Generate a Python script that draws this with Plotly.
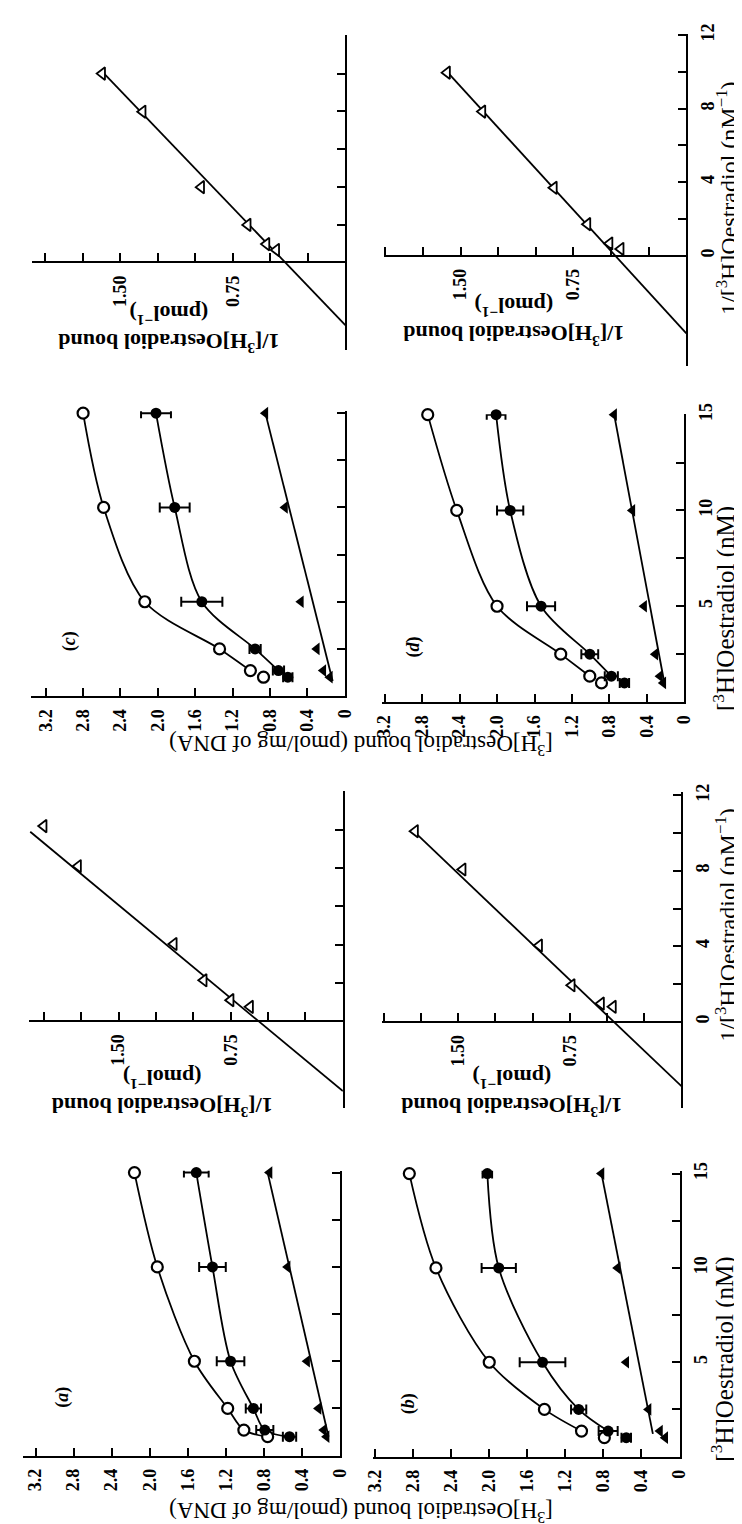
import plotly.graph_objects as go

W, H = 742, 1524

# ---------------- data ----------------
conc_nM = [1.0, 1.35, 2.5, 5, 10, 15]

# panel (a)
a_open = [0.76, 1.01, 1.18, 1.53, 1.92, 2.16]
a_filled = [0.53, 0.79, 0.91, 1.15, 1.34, 1.51]
a_filled_err = [0.07, 0.09, 0.08, 0.145, 0.14, 0.13]
a_tri = [0.14, 0.17, 0.225, 0.345, 0.55, 0.74]
a_tri_fit_conc = [1.0, 15]
a_tri_fit = [0.12, 0.76]

# panel (b)
b_open = [0.79, 1.03, 1.42, 2.00, 2.56, 2.84]
b_filled = [0.56, 0.75, 1.06, 1.44, 1.90, 2.02]
b_filled_err = [0.05, 0.10, 0.08, 0.24, 0.18, 0.05]
b_tri = [0.15, 0.205, 0.325, 0.56, 0.65, 0.82]
b_tri_fit_conc = [1.2, 15]
b_tri_fit = [0.28, 0.82]

# panel (c)
c_open = [0.87, 1.01, 1.34, 2.14, 2.58, 2.80]
c_filled = [0.61, 0.71, 0.96, 1.53, 1.82, 2.02]
c_filled_err = [0.05, 0.06, 0.06, 0.22, 0.16, 0.16]
c_tri = [0.16, 0.23, 0.30, 0.47, 0.64, 0.85]
c_tri_fit_conc = [0.8, 15]
c_tri_fit = [0.13, 0.85]

# panel (d)
d_open = [0.885, 1.01, 1.32, 2.00, 2.43, 2.74]
d_filled = [0.64, 0.78, 1.01, 1.53, 1.86, 2.01]
d_filled_err = [0.05, 0.07, 0.09, 0.15, 0.14, 0.10]
d_tri = [0.225, 0.26, 0.31, 0.43, 0.555, 0.75]
d_tri_fit_conc = [0.9, 15]
d_tri_fit = [0.21, 0.75]

# double-reciprocal panels
lwa_inv_conc = [10.2, 8.1, 4.03, 2.13, 1.09, 0.74]
lwa_inv_bound = [2.00, 1.77, 1.13, 0.93, 0.75, 0.62]
lwa_fit_inv_conc = [9.9, -3.67]
lwa_fit_inv_bound = [2.09, 0.0]

lwb_inv_conc = [10.1, 8.07, 4.04, 1.93, 0.96, 0.79]
lwb_inv_bound = [1.79, 1.47, 0.956, 0.737, 0.54, 0.46]
lwb_fit_inv_conc = [10.1, -3.42]
lwb_fit_inv_bound = [1.80, 0.0]

lwc_inv_conc = [10.0, 7.98, 3.98, 1.98, 0.96, 0.65]
lwc_inv_bound = [1.62, 1.35, 0.96, 0.65, 0.525, 0.46]
lwc_fit_inv_conc = [10.1, -3.33]
lwc_fit_inv_bound = [1.62, 0.0]

lwd_inv_conc = [9.96, 7.84, 3.69, 1.71, 0.66, 0.36]
lwd_inv_bound = [1.59, 1.355, 0.88, 0.657, 0.51, 0.436]
lwd_fit_inv_conc = [10.1, -4.24]
lwd_fit_inv_bound = [1.60, 0.0]

bound_ticks = [0, 0.4, 0.8, 1.2, 1.6, 2.0, 2.4, 2.8, 3.2]
bound_ticktext = ["0", "0.4", "0.8", "1.2", "1.6", "2.0", "2.4", "2.8", "3.2"]
conc_ticks = [0, 2.5, 5, 7.5, 10, 12.5, 15]
conc_ticktext = ["", "", "5", "", "10", "", "15"]
invb_ticks = [0.25, 0.5, 0.75, 1.0, 1.25, 1.5, 1.75, 2.0]
invb_ticktext = ["", "", "0.75", "", "", "1.50", "", ""]
invc_ticks = [0, 2, 4, 6, 8, 10, 12]
invc_ticktext = ["0", "", "4", "", "8", "", "12"]

# ---------------- layout geometry (pixels) ----------------
sat_geom = {
    "a": dict(n=1, x0=332, sx=97.5, xl=7, y0=1447, sy=19.0, yt=1160, labels=False),
    "b": dict(n=2, x0=680, sx=97.5, xl=366, y0=1448, sy=19.0, yt=1160, labels=True),
    "c": dict(n=3, x0=337, sx=95.8, xl=15, y0=682, sy=19.0, yt=395, labels=False),
    "d": dict(n=4, x0=685, sx=96.0, xl=375, y0=688, sy=19.3, yt=398, labels=True),
}
lw_geom = {
    "a": dict(n=5, x0=335, sx=153.3, xl=13, y0=1009.3, sy=19.25, yt=778, yb=1097, labels=False),
    "b": dict(n=6, x0=682, sx=152.5, xl=375, y0=1010, sy=19.0, yt=779, yb=1097, labels=True),
    "c": dict(n=7, x0=337.5, sx=153.8, xl=16.7, y0=245, sy=19.0, yt=16, yb=333, labels=False),
    "d": dict(n=8, x0=687, sx=154.2, xl=377, y0=238.3, sy=18.5, yt=15, yb=350, labels=True),
}

sat_data = {
    "a": (a_open, a_filled, a_filled_err, a_tri, a_tri_fit_conc, a_tri_fit, 0, 0),
    "b": (b_open, b_filled, b_filled_err, b_tri, b_tri_fit_conc, b_tri_fit, 1, 1),
    "c": (c_open, c_filled, c_filled_err, c_tri, c_tri_fit_conc, c_tri_fit, 1, 1),
    "d": (d_open, d_filled, d_filled_err, d_tri, d_tri_fit_conc, d_tri_fit, 1, 1),
}
lw_data = {
    "a": (lwa_inv_bound, lwa_inv_conc, lwa_fit_inv_bound, lwa_fit_inv_conc),
    "b": (lwb_inv_bound, lwb_inv_conc, lwb_fit_inv_bound, lwb_fit_inv_conc),
    "c": (lwc_inv_bound, lwc_inv_conc, lwc_fit_inv_bound, lwc_fit_inv_conc),
    "d": (lwd_inv_bound, lwd_inv_conc, lwd_fit_inv_bound, lwd_fit_inv_conc),
}

SERIF = "Liberation Serif"
tickfont = dict(family=SERIF, size=18, color="black", weight="bold")
LINE_W = 1.8

fig = go.Figure()
layout = dict(
    width=W, height=H, margin=dict(l=0, r=0, t=0, b=0),
    paper_bgcolor="white", plot_bgcolor="white", showlegend=False,
)

axis_common = dict(
    showgrid=False, zeroline=False, showline=True, linecolor="black", linewidth=2,
    ticks="inside", ticklen=8, tickwidth=2, tickcolor="black", tickfont=tickfont,
    tickangle=-90, fixedrange=True,
)

for key, g in sat_geom.items():
    n = g["n"]
    xa, ya = ("x" if n == 1 else f"x{n}"), ("y" if n == 1 else f"y{n}")
    layout[f"xaxis{n}" if n > 1 else "xaxis"] = dict(
        axis_common,
        domain=[g["xl"] / W, g["x0"] / W],
        range=[(g["x0"] - g["xl"]) / g["sx"], 0],
        anchor=ya, side="bottom",
        tickmode="array", tickvals=bound_ticks, ticktext=bound_ticktext,
        ticklabelstandoff=4,
    )
    layout[f"yaxis{n}" if n > 1 else "yaxis"] = dict(
        axis_common,
        domain=[1 - g["y0"] / H, 1 - g["yt"] / H],
        range=[0, (g["y0"] - g["yt"]) / g["sy"]],
        anchor=xa, side="right",
        tickmode="array", tickvals=conc_ticks, ticktext=conc_ticktext,
        showticklabels=g["labels"], ticklabelstandoff=4,
    )
    op, fi, fe, tr, tfc, tf, s_open, s_fill = sat_data[key]
    # curves
    fig.add_trace(go.Scatter(x=op[s_open:], y=conc_nM[s_open:], mode="lines",
                             line=dict(color="black", width=LINE_W, shape="spline", smoothing=0.9),
                             xaxis=xa, yaxis=ya, hoverinfo="skip"))
    fig.add_trace(go.Scatter(x=fi[s_fill:], y=conc_nM[s_fill:], mode="lines",
                             line=dict(color="black", width=LINE_W, shape="spline", smoothing=0.9),
                             xaxis=xa, yaxis=ya, hoverinfo="skip"))
    fig.add_trace(go.Scatter(x=tf, y=tfc, mode="lines",
                             line=dict(color="black", width=LINE_W),
                             xaxis=xa, yaxis=ya, hoverinfo="skip"))
    # markers
    fig.add_trace(go.Scatter(x=op, y=conc_nM, mode="markers",
                             marker=dict(symbol="circle", size=11, color="white",
                                         line=dict(color="black", width=2.2)),
                             xaxis=xa, yaxis=ya, cliponaxis=False))
    fig.add_trace(go.Scatter(x=fi, y=conc_nM, mode="markers",
                             marker=dict(symbol="circle", size=11, color="black"),
                             error_x=dict(type="data", array=fe, visible=True,
                                          color="black", thickness=2, width=5),
                             xaxis=xa, yaxis=ya, cliponaxis=False))
    fig.add_trace(go.Scatter(x=tr, y=conc_nM, mode="markers",
                             marker=dict(symbol="triangle-left", size=11, color="black"),
                             xaxis=xa, yaxis=ya, cliponaxis=False))

for key, g in lw_geom.items():
    n = g["n"]
    xa, ya = f"x{n}", f"y{n}"
    layout[f"xaxis{n}"] = dict(
        axis_common,
        domain=[g["xl"] / W, g["x0"] / W],
        range=[(g["x0"] - g["xl"]) / g["sx"], 0],
        anchor="free", position=1 - g["y0"] / H, side="bottom",
        tickmode="array", tickvals=invb_ticks, ticktext=invb_ticktext,
        ticklabelstandoff=5,
    )
    layout[f"yaxis{n}"] = dict(
        axis_common,
        domain=[1 - g["yb"] / H, 1 - g["yt"] / H],
        range=[-(g["yb"] - g["y0"]) / g["sy"], (g["y0"] - g["yt"]) / g["sy"]],
        anchor=xa, side="right",
        tickmode="array", tickvals=invc_ticks, ticktext=invc_ticktext,
        showticklabels=g["labels"], ticklabelstandoff=4,
    )
    ib, ic, fb, fc = lw_data[key]
    fig.add_trace(go.Scatter(x=fb, y=fc, mode="lines",
                             line=dict(color="black", width=LINE_W),
                             xaxis=xa, yaxis=ya, hoverinfo="skip"))
    fig.add_trace(go.Scatter(x=ib, y=ic, mode="markers",
                             marker=dict(symbol="triangle-left", size=11, color="white",
                                         line=dict(color="black", width=1.8)),
                             xaxis=xa, yaxis=ya, cliponaxis=False))

def ann(text, px, py, angle, size, bold=False):
    return dict(text=text, x=px / W, y=1 - py / H, xref="paper", yref="paper",
                showarrow=False, textangle=angle, xanchor="center", yanchor="middle",
                font=dict(family=SERIF, size=size, color="black",
                          weight="bold" if bold else "normal"))

sat_ytitle = "[<sup>3</sup>H]Oestradiol bound (pmol/mg of DNA)"
sat_xtitle = "[<sup>3</sup>H]Oestradiol (nM)"
lw_ytitle = "1/[<sup>3</sup>H]Oestradiol bound<br>(pmol<sup>−1</sup>)"
lw_xtitle = "1/[<sup>3</sup>H]Oestradiol (nM<sup>−1</sup>)"

annotations = [
    ann(sat_ytitle, 353, 1504, 180, 23),
    ann(sat_ytitle, 353, 731, 180, 23),
    ann(sat_xtitle, 724, 1350, -90, 25),
    ann(sat_xtitle, 726, 594, -90, 25),
    ann(lw_xtitle, 728, 912, -90, 24),
    ann(lw_xtitle, 728, 180, -90, 24),
    ann(lw_ytitle, 150, 1082, 180, 22, bold=True),
    ann(lw_ytitle, 508, 1082, 180, 22, bold=True),
    ann(lw_ytitle, 157, 312, 180, 22, bold=True),
    ann(lw_ytitle, 510, 304, 180, 22, bold=True),
    ann("(<i>a</i>)", 48, 1388, -90, 18, bold=True),
    ann("(<i>b</i>)", 403, 1395, -90, 18, bold=True),
    ann("(<i>c</i>)", 55, 627, -90, 18, bold=True),
    ann("(<i>d</i>)", 407, 633, -90, 18, bold=True),
]
layout["annotations"] = annotations

fig.update_layout(**layout)
fig.write_html("out.html")
